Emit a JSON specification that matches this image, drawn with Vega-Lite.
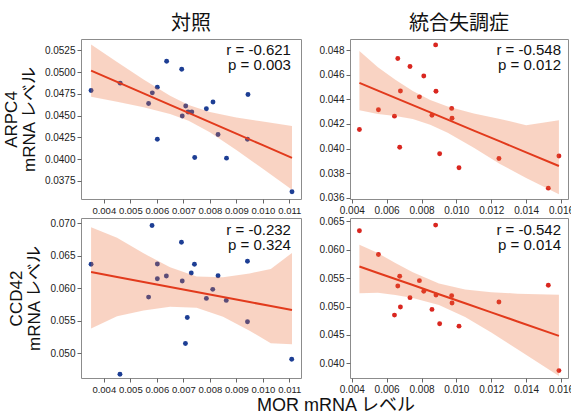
{
  "$schema": "https://vega.github.io/schema/vega-lite/v6.json",
  "background": "white",
  "padding": {"left": 1, "top": 13, "right": 1, "bottom": 0},
  "datasets": {
    "pts": [
      {"g": "ARPC4", "grp": "ctl", "mor": 0.00352, "val": 0.04788},
      {"g": "ARPC4", "grp": "ctl", "mor": 0.00462, "val": 0.04872},
      {"g": "ARPC4", "grp": "ctl", "mor": 0.00637, "val": 0.05124},
      {"g": "ARPC4", "grp": "ctl", "mor": 0.00694, "val": 0.05032},
      {"g": "ARPC4", "grp": "ctl", "mor": 0.00602, "val": 0.04826},
      {"g": "ARPC4", "grp": "ctl", "mor": 0.00583, "val": 0.04761},
      {"g": "ARPC4", "grp": "ctl", "mor": 0.00569, "val": 0.04639},
      {"g": "ARPC4", "grp": "ctl", "mor": 0.00602, "val": 0.04227},
      {"g": "ARPC4", "grp": "ctl", "mor": 0.00709, "val": 0.04609},
      {"g": "ARPC4", "grp": "ctl", "mor": 0.00696, "val": 0.04494},
      {"g": "ARPC4", "grp": "ctl", "mor": 0.00718, "val": 0.0454},
      {"g": "ARPC4", "grp": "ctl", "mor": 0.00732, "val": 0.0454},
      {"g": "ARPC4", "grp": "ctl", "mor": 0.00743, "val": 0.04017},
      {"g": "ARPC4", "grp": "ctl", "mor": 0.00787, "val": 0.04578},
      {"g": "ARPC4", "grp": "ctl", "mor": 0.00812, "val": 0.04655},
      {"g": "ARPC4", "grp": "ctl", "mor": 0.00831, "val": 0.04281},
      {"g": "ARPC4", "grp": "ctl", "mor": 0.00863, "val": 0.0401},
      {"g": "ARPC4", "grp": "ctl", "mor": 0.00944, "val": 0.04742},
      {"g": "ARPC4", "grp": "ctl", "mor": 0.00942, "val": 0.04227},
      {"g": "ARPC4", "grp": "ctl", "mor": 0.0111, "val": 0.03624},

      {"g": "ARPC4", "grp": "sz", "mor": 0.00444, "val": 0.04155},
      {"g": "ARPC4", "grp": "sz", "mor": 0.00553, "val": 0.04315},
      {"g": "ARPC4", "grp": "sz", "mor": 0.00645, "val": 0.04263},
      {"g": "ARPC4", "grp": "sz", "mor": 0.00664, "val": 0.04731},
      {"g": "ARPC4", "grp": "sz", "mor": 0.00679, "val": 0.04468},
      {"g": "ARPC4", "grp": "sz", "mor": 0.00675, "val": 0.04011},
      {"g": "ARPC4", "grp": "sz", "mor": 0.00734, "val": 0.04667},
      {"g": "ARPC4", "grp": "sz", "mor": 0.00788, "val": 0.0442},
      {"g": "ARPC4", "grp": "sz", "mor": 0.00813, "val": 0.04589},
      {"g": "ARPC4", "grp": "sz", "mor": 0.0086, "val": 0.04271},
      {"g": "ARPC4", "grp": "sz", "mor": 0.00881, "val": 0.04842},
      {"g": "ARPC4", "grp": "sz", "mor": 0.00883, "val": 0.04465},
      {"g": "ARPC4", "grp": "sz", "mor": 0.00904, "val": 0.03958},
      {"g": "ARPC4", "grp": "sz", "mor": 0.00973, "val": 0.04326},
      {"g": "ARPC4", "grp": "sz", "mor": 0.00975, "val": 0.04246},
      {"g": "ARPC4", "grp": "sz", "mor": 0.01015, "val": 0.03844},
      {"g": "ARPC4", "grp": "sz", "mor": 0.01244, "val": 0.03919},
      {"g": "ARPC4", "grp": "sz", "mor": 0.01527, "val": 0.03678},
      {"g": "ARPC4", "grp": "sz", "mor": 0.01588, "val": 0.03939},

      {"g": "CCD42", "grp": "ctl", "mor": 0.00352, "val": 0.06368},
      {"g": "CCD42", "grp": "ctl", "mor": 0.00461, "val": 0.04677},
      {"g": "CCD42", "grp": "ctl", "mor": 0.00582, "val": 0.06964},
      {"g": "CCD42", "grp": "ctl", "mor": 0.00569, "val": 0.05864},
      {"g": "CCD42", "grp": "ctl", "mor": 0.00602, "val": 0.06373},
      {"g": "CCD42", "grp": "ctl", "mor": 0.00602, "val": 0.06147},
      {"g": "CCD42", "grp": "ctl", "mor": 0.00636, "val": 0.06188},
      {"g": "CCD42", "grp": "ctl", "mor": 0.00693, "val": 0.06707},
      {"g": "CCD42", "grp": "ctl", "mor": 0.00696, "val": 0.06111},
      {"g": "CCD42", "grp": "ctl", "mor": 0.00715, "val": 0.05551},
      {"g": "CCD42", "grp": "ctl", "mor": 0.00708, "val": 0.0515},
      {"g": "CCD42", "grp": "ctl", "mor": 0.0073, "val": 0.06234},
      {"g": "CCD42", "grp": "ctl", "mor": 0.00742, "val": 0.06368},
      {"g": "CCD42", "grp": "ctl", "mor": 0.00787, "val": 0.05844},
      {"g": "CCD42", "grp": "ctl", "mor": 0.00811, "val": 0.05983},
      {"g": "CCD42", "grp": "ctl", "mor": 0.00831, "val": 0.06193},
      {"g": "CCD42", "grp": "ctl", "mor": 0.00862, "val": 0.05813},
      {"g": "CCD42", "grp": "ctl", "mor": 0.00942, "val": 0.06414},
      {"g": "CCD42", "grp": "ctl", "mor": 0.00942, "val": 0.05484},
      {"g": "CCD42", "grp": "ctl", "mor": 0.01109, "val": 0.04909},

      {"g": "CCD42", "grp": "sz", "mor": 0.00444, "val": 0.06335},
      {"g": "CCD42", "grp": "sz", "mor": 0.00553, "val": 0.05916},
      {"g": "CCD42", "grp": "sz", "mor": 0.00675, "val": 0.05533},
      {"g": "CCD42", "grp": "sz", "mor": 0.00664, "val": 0.05362},
      {"g": "CCD42", "grp": "sz", "mor": 0.00679, "val": 0.04991},
      {"g": "CCD42", "grp": "sz", "mor": 0.00645, "val": 0.04849},
      {"g": "CCD42", "grp": "sz", "mor": 0.00734, "val": 0.05156},
      {"g": "CCD42", "grp": "sz", "mor": 0.00788, "val": 0.05456},
      {"g": "CCD42", "grp": "sz", "mor": 0.00813, "val": 0.05268},
      {"g": "CCD42", "grp": "sz", "mor": 0.0086, "val": 0.04949},
      {"g": "CCD42", "grp": "sz", "mor": 0.00881, "val": 0.06435},
      {"g": "CCD42", "grp": "sz", "mor": 0.00883, "val": 0.05203},
      {"g": "CCD42", "grp": "sz", "mor": 0.00904, "val": 0.04696},
      {"g": "CCD42", "grp": "sz", "mor": 0.00973, "val": 0.05191},
      {"g": "CCD42", "grp": "sz", "mor": 0.00975, "val": 0.05061},
      {"g": "CCD42", "grp": "sz", "mor": 0.01015, "val": 0.04654},
      {"g": "CCD42", "grp": "sz", "mor": 0.01244, "val": 0.05079},
      {"g": "CCD42", "grp": "sz", "mor": 0.01527, "val": 0.05374},
      {"g": "CCD42", "grp": "sz", "mor": 0.01588, "val": 0.0387}
    ],
    "bands": [
      {"g": "ARPC4", "grp": "ctl", "mor": 0.00352, "fit": 0.05017, "lo": 0.04717, "hi": 0.05317},
      {"g": "ARPC4", "grp": "ctl", "mor": 0.0045, "fit": 0.04887, "lo": 0.04659, "hi": 0.05115},
      {"g": "ARPC4", "grp": "ctl", "mor": 0.0055, "fit": 0.04755, "lo": 0.04595, "hi": 0.04915},
      {"g": "ARPC4", "grp": "ctl", "mor": 0.0065, "fit": 0.04622, "lo": 0.04517, "hi": 0.04727},
      {"g": "ARPC4", "grp": "ctl", "mor": 0.0072, "fit": 0.0453, "lo": 0.0444, "hi": 0.0462},
      {"g": "ARPC4", "grp": "ctl", "mor": 0.008, "fit": 0.04424, "lo": 0.04308, "hi": 0.0454},
      {"g": "ARPC4", "grp": "ctl", "mor": 0.009, "fit": 0.04291, "lo": 0.04104, "hi": 0.04478},
      {"g": "ARPC4", "grp": "ctl", "mor": 0.01, "fit": 0.04159, "lo": 0.03888, "hi": 0.0443},
      {"g": "ARPC4", "grp": "ctl", "mor": 0.0111, "fit": 0.04013, "lo": 0.03646, "hi": 0.0438},

      {"g": "ARPC4", "grp": "sz", "mor": 0.00444, "fit": 0.04534, "lo": 0.04312, "hi": 0.04792},
      {"g": "ARPC4", "grp": "sz", "mor": 0.0055, "fit": 0.04471, "lo": 0.04281, "hi": 0.04661},
      {"g": "ARPC4", "grp": "sz", "mor": 0.0065, "fit": 0.04412, "lo": 0.04265, "hi": 0.04559},
      {"g": "ARPC4", "grp": "sz", "mor": 0.0075, "fit": 0.04353, "lo": 0.04239, "hi": 0.04467},
      {"g": "ARPC4", "grp": "sz", "mor": 0.0085, "fit": 0.04294, "lo": 0.04194, "hi": 0.04394},
      {"g": "ARPC4", "grp": "sz", "mor": 0.0095, "fit": 0.04235, "lo": 0.04128, "hi": 0.04342},
      {"g": "ARPC4", "grp": "sz", "mor": 0.011, "fit": 0.04146, "lo": 0.04007, "hi": 0.04285},
      {"g": "ARPC4", "grp": "sz", "mor": 0.0125, "fit": 0.04058, "lo": 0.03875, "hi": 0.04241},
      {"g": "ARPC4", "grp": "sz", "mor": 0.014, "fit": 0.03969, "lo": 0.0376, "hi": 0.0419},
      {"g": "ARPC4", "grp": "sz", "mor": 0.01588, "fit": 0.03858, "lo": 0.03628, "hi": 0.0423},

      {"g": "CCD42", "grp": "ctl", "mor": 0.00352, "fit": 0.0625, "lo": 0.05381, "hi": 0.06938},
      {"g": "CCD42", "grp": "ctl", "mor": 0.0045, "fit": 0.06174, "lo": 0.05571, "hi": 0.06777},
      {"g": "CCD42", "grp": "ctl", "mor": 0.0055, "fit": 0.06097, "lo": 0.05657, "hi": 0.06537},
      {"g": "CCD42", "grp": "ctl", "mor": 0.0065, "fit": 0.0602, "lo": 0.05717, "hi": 0.06323},
      {"g": "CCD42", "grp": "ctl", "mor": 0.0075, "fit": 0.05942, "lo": 0.05702, "hi": 0.06182},
      {"g": "CCD42", "grp": "ctl", "mor": 0.0085, "fit": 0.05865, "lo": 0.05562, "hi": 0.06168},
      {"g": "CCD42", "grp": "ctl", "mor": 0.0095, "fit": 0.05788, "lo": 0.05348, "hi": 0.06228},
      {"g": "CCD42", "grp": "ctl", "mor": 0.0103, "fit": 0.05726, "lo": 0.05156, "hi": 0.06296},
      {"g": "CCD42", "grp": "ctl", "mor": 0.0111, "fit": 0.05664, "lo": 0.0514, "hi": 0.06543},

      {"g": "CCD42", "grp": "sz", "mor": 0.00444, "fit": 0.05704, "lo": 0.05232, "hi": 0.06087},
      {"g": "CCD42", "grp": "sz", "mor": 0.0055, "fit": 0.05591, "lo": 0.05241, "hi": 0.05941},
      {"g": "CCD42", "grp": "sz", "mor": 0.0065, "fit": 0.05484, "lo": 0.05201, "hi": 0.05767},
      {"g": "CCD42", "grp": "sz", "mor": 0.0075, "fit": 0.05378, "lo": 0.0515, "hi": 0.05606},
      {"g": "CCD42", "grp": "sz", "mor": 0.009, "fit": 0.05217, "lo": 0.05027, "hi": 0.05407},
      {"g": "CCD42", "grp": "sz", "mor": 0.0105, "fit": 0.05057, "lo": 0.04814, "hi": 0.053},
      {"g": "CCD42", "grp": "sz", "mor": 0.012, "fit": 0.04897, "lo": 0.04541, "hi": 0.05253},
      {"g": "CCD42", "grp": "sz", "mor": 0.0135, "fit": 0.04737, "lo": 0.04247, "hi": 0.05227},
      {"g": "CCD42", "grp": "sz", "mor": 0.01588, "fit": 0.04483, "lo": 0.03776, "hi": 0.05209}
    ]
  },
  "title": {"text": "MOR mRNA レベル", "orient": "bottom", "anchor": "middle", "fontSize": 18, "font": "Liberation Sans, Noto Sans CJK JP", "offset": 2, "dx": 48},
  "bounds": "flush",
  "columns": 2,
  "spacing": {"row": 19, "column": 49},
  "concat": [
    {
      "width": 220, "height": 160,
      "title": {"text": "対照"},
      "layer": [
        {"data": {"name": "pts"}, "transform": [{"filter": "datum.g == 'ARPC4' && datum.grp == 'ctl'"}],
         "mark": {"type": "circle", "size": 24, "opacity": 1, "color": "#1d3e94"},
         "encoding": {
           "x": {"field": "mor", "type": "quantitative", "title": null, "scale": {"domain": [0.00314, 0.01144], "nice": false, "zero": false}, "axis": {"values": [0.004, 0.005, 0.006, 0.007, 0.008, 0.009, 0.01, 0.011], "tickCount": 30, "format": ".3f", "labelOverlap": false, "labelFontSize": 9.5}},
           "y": {"field": "val", "type": "quantitative", "title": ["ARPC4", "mRNA レベル"], "scale": {"domain": [0.0354, 0.0538], "nice": false, "zero": false}, "axis": {"values": [0.0375, 0.04, 0.0425, 0.045, 0.0475, 0.05, 0.0525], "tickCount": 30, "format": ".4f", "labelOverlap": false}}
         }},
        {"data": {"name": "bands"}, "transform": [{"filter": "datum.g == 'ARPC4' && datum.grp == 'ctl'"}],
         "mark": {"type": "area", "color": "#eb6c37", "opacity": 0.3},
         "encoding": {"x": {"field": "mor", "type": "quantitative", "title": null}, "y": {"field": "lo", "type": "quantitative", "title": ["ARPC4", "mRNA レベル"]}, "y2": {"field": "hi"}}},
        {"data": {"name": "bands"}, "transform": [{"filter": "datum.g == 'ARPC4' && datum.grp == 'ctl'"}],
         "mark": {"type": "line", "color": "#e23a1c", "strokeWidth": 2},
         "encoding": {"x": {"field": "mor", "type": "quantitative", "title": null}, "y": {"field": "fit", "type": "quantitative", "title": ["ARPC4", "mRNA レベル"]}}},
        {"data": {"values": [{"label": "r = -0.621\np = 0.003"}]},
         "mark": {"type": "text", "align": "right", "baseline": "top", "fontSize": 15, "lineBreak": "\n", "lineHeight": 15, "color": "#111", "font": "Liberation Sans"},
         "encoding": {"x": {"datum": 0.01106, "type": "quantitative", "title": null}, "y": {"datum": 0.05334, "type": "quantitative", "title": ["ARPC4", "mRNA レベル"]}, "text": {"field": "label"}}}
      ]
    },
    {
      "width": 218, "height": 160,
      "title": {"text": "統合失調症"},
      "layer": [
        {"data": {"name": "pts"}, "transform": [{"filter": "datum.g == 'ARPC4' && datum.grp == 'sz'"}],
         "mark": {"type": "circle", "size": 24, "opacity": 1, "color": "#d9261f"},
         "encoding": {
           "x": {"field": "mor", "type": "quantitative", "title": null, "scale": {"domain": [0.0039, 0.0164], "nice": false, "zero": false}, "axis": {"values": [0.004, 0.006, 0.008, 0.01, 0.012, 0.014, 0.016], "tickCount": 30, "format": ".3f", "labelOverlap": false}},
           "y": {"field": "val", "type": "quantitative", "title": null, "scale": {"domain": [0.0359, 0.0489], "nice": false, "zero": false}, "axis": {"values": [0.036, 0.038, 0.04, 0.042, 0.044, 0.046, 0.048], "tickCount": 30, "format": ".3f", "labelOverlap": false}}
         }},
        {"data": {"name": "bands"}, "transform": [{"filter": "datum.g == 'ARPC4' && datum.grp == 'sz'"}],
         "mark": {"type": "area", "color": "#eb6c37", "opacity": 0.3},
         "encoding": {"x": {"field": "mor", "type": "quantitative", "title": null}, "y": {"field": "lo", "type": "quantitative", "title": null}, "y2": {"field": "hi"}}},
        {"data": {"name": "bands"}, "transform": [{"filter": "datum.g == 'ARPC4' && datum.grp == 'sz'"}],
         "mark": {"type": "line", "color": "#e23a1c", "strokeWidth": 2},
         "encoding": {"x": {"field": "mor", "type": "quantitative", "title": null}, "y": {"field": "fit", "type": "quantitative", "title": null}}},
        {"data": {"values": [{"label": "r = -0.548\np = 0.012"}]},
         "mark": {"type": "text", "align": "right", "baseline": "top", "fontSize": 15, "lineBreak": "\n", "lineHeight": 15, "color": "#111", "font": "Liberation Sans"},
         "encoding": {"x": {"datum": 0.016, "type": "quantitative", "title": null}, "y": {"datum": 0.04857, "type": "quantitative", "title": null}, "text": {"field": "label"}}}
      ]
    },
    {
      "width": 220, "height": 160,
      "layer": [
        {"data": {"name": "pts"}, "transform": [{"filter": "datum.g == 'CCD42' && datum.grp == 'ctl'"}],
         "mark": {"type": "circle", "size": 24, "opacity": 1, "color": "#1d3e94"},
         "encoding": {
           "x": {"field": "mor", "type": "quantitative", "title": null, "scale": {"domain": [0.00314, 0.01144], "nice": false, "zero": false}, "axis": {"values": [0.004, 0.005, 0.006, 0.007, 0.008, 0.009, 0.01, 0.011], "tickCount": 30, "format": ".3f", "labelOverlap": false, "labelFontSize": 9.5}},
           "y": {"field": "val", "type": "quantitative", "title": ["CCD42", "mRNA レベル"], "scale": {"domain": [0.0462, 0.0708], "nice": false, "zero": false}, "axis": {"values": [0.05, 0.055, 0.06, 0.065, 0.07], "tickCount": 30, "format": ".3f", "labelOverlap": false}}
         }},
        {"data": {"name": "bands"}, "transform": [{"filter": "datum.g == 'CCD42' && datum.grp == 'ctl'"}],
         "mark": {"type": "area", "color": "#eb6c37", "opacity": 0.3},
         "encoding": {"x": {"field": "mor", "type": "quantitative", "title": null}, "y": {"field": "lo", "type": "quantitative", "title": ["CCD42", "mRNA レベル"]}, "y2": {"field": "hi"}}},
        {"data": {"name": "bands"}, "transform": [{"filter": "datum.g == 'CCD42' && datum.grp == 'ctl'"}],
         "mark": {"type": "line", "color": "#e23a1c", "strokeWidth": 2},
         "encoding": {"x": {"field": "mor", "type": "quantitative", "title": null}, "y": {"field": "fit", "type": "quantitative", "title": ["CCD42", "mRNA レベル"]}}},
        {"data": {"values": [{"label": "r = -0.232\np = 0.324"}]},
         "mark": {"type": "text", "align": "right", "baseline": "top", "fontSize": 15, "lineBreak": "\n", "lineHeight": 15, "color": "#111", "font": "Liberation Sans"},
         "encoding": {"x": {"datum": 0.01106, "type": "quantitative", "title": null}, "y": {"datum": 0.0701, "type": "quantitative", "title": ["CCD42", "mRNA レベル"]}, "text": {"field": "label"}}}
      ]
    },
    {
      "width": 218, "height": 160,
      "layer": [
        {"data": {"name": "pts"}, "transform": [{"filter": "datum.g == 'CCD42' && datum.grp == 'sz'"}],
         "mark": {"type": "circle", "size": 24, "opacity": 1, "color": "#d9261f"},
         "encoding": {
           "x": {"field": "mor", "type": "quantitative", "title": null, "scale": {"domain": [0.0039, 0.0164], "nice": false, "zero": false}, "axis": {"values": [0.004, 0.006, 0.008, 0.01, 0.012, 0.014, 0.016], "tickCount": 30, "format": ".3f", "labelOverlap": false}},
           "y": {"field": "val", "type": "quantitative", "title": null, "scale": {"domain": [0.0374, 0.0656], "nice": false, "zero": false}, "axis": {"values": [0.04, 0.045, 0.05, 0.055, 0.06, 0.065], "tickCount": 30, "format": ".3f", "labelOverlap": false}}
         }},
        {"data": {"name": "bands"}, "transform": [{"filter": "datum.g == 'CCD42' && datum.grp == 'sz'"}],
         "mark": {"type": "area", "color": "#eb6c37", "opacity": 0.3},
         "encoding": {"x": {"field": "mor", "type": "quantitative", "title": null}, "y": {"field": "lo", "type": "quantitative", "title": null}, "y2": {"field": "hi"}}},
        {"data": {"name": "bands"}, "transform": [{"filter": "datum.g == 'CCD42' && datum.grp == 'sz'"}],
         "mark": {"type": "line", "color": "#e23a1c", "strokeWidth": 2},
         "encoding": {"x": {"field": "mor", "type": "quantitative", "title": null}, "y": {"field": "fit", "type": "quantitative", "title": null}}},
        {"data": {"values": [{"label": "r = -0.542\np = 0.014"}]},
         "mark": {"type": "text", "align": "right", "baseline": "top", "fontSize": 15, "lineBreak": "\n", "lineHeight": 15, "color": "#111", "font": "Liberation Sans"},
         "encoding": {"x": {"datum": 0.016, "type": "quantitative", "title": null}, "y": {"datum": 0.06472, "type": "quantitative", "title": null}, "text": {"field": "label"}}}
      ]
    }
  ],
  "config": {
    "view": {"stroke": "#8c8c8c", "strokeWidth": 1},
    "axis": {"domain": false, "grid": false, "ticks": true, "tickSize": 4, "tickColor": "#666", "labelFont": "Liberation Sans", "labelFontSize": 10, "labelColor": "#222", "labelPadding": 2, "labelFlush": false, "labelOverlap": false, "titleFont": "Liberation Sans, Noto Sans CJK JP", "titleFontSize": 17, "titleFontWeight": "normal", "titleColor": "#111", "titleLineHeight": 18, "titlePadding": 6},
    "title": {"font": "Noto Sans CJK JP", "fontSize": 20, "fontWeight": "normal", "color": "#111", "offset": 5}
  }
}
